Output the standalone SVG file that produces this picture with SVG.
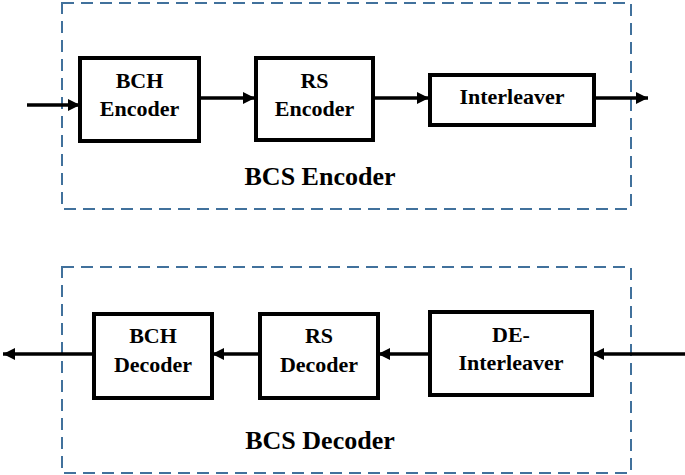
<svg xmlns="http://www.w3.org/2000/svg" width="685" height="475" viewBox="0 0 685 475">
<style>
.grp{fill:none;stroke:#41719c;stroke-width:2;stroke-dasharray:12 7}
.box{fill:#fff;stroke:#000;stroke-width:4}
.con{fill:none;stroke:#000;stroke-width:3.5}
</style>
<defs>
<marker id="ah" viewBox="0 0 10 10" refX="10" refY="5" markerWidth="12" markerHeight="12" markerUnits="userSpaceOnUse" orient="auto">
<path d="M0,0 L10,5 L0,10 Z" fill="#000"/>
</marker>
</defs>
<rect width="685" height="475" fill="#fff"/>
<g id="encoder-group">
<rect class="grp" x="62" y="3" width="569" height="206"/>
<text x="320" y="185" font-family="Liberation Serif, Times New Roman, serif" font-weight="bold" font-size="26" text-anchor="middle">BCS Encoder</text>
</g>
<g id="decoder-group">
<rect class="grp" x="62" y="267" width="569" height="206"/>
<text x="320" y="449" font-family="Liberation Serif, Times New Roman, serif" font-weight="bold" font-size="26" text-anchor="middle">BCS Decoder</text>
</g>
<g id="connectors">
<line class="con" x1="27" y1="105" x2="80" y2="105" marker-end="url(#ah)"/>
<line class="con" x1="199" y1="98" x2="255" y2="98" marker-end="url(#ah)"/>
<line class="con" x1="373" y1="98" x2="429" y2="98" marker-end="url(#ah)"/>
<line class="con" x1="594" y1="98" x2="648" y2="98" marker-end="url(#ah)"/>
<line class="con" x1="685" y1="354" x2="592" y2="354" marker-end="url(#ah)"/>
<line class="con" x1="429" y1="354" x2="378" y2="354" marker-end="url(#ah)"/>
<line class="con" x1="259" y1="354" x2="212" y2="354" marker-end="url(#ah)"/>
<line class="con" x1="93" y1="354" x2="3" y2="354" marker-end="url(#ah)"/>
</g>
<g font-family="Liberation Serif, Times New Roman, serif" font-weight="bold" font-size="22" text-anchor="middle">
<g id="bch-encoder">
<rect class="box" x="80" y="58" width="119" height="83"/>
<text x="139.5" y="88">BCH</text>
<text x="139.5" y="116">Encoder</text>
</g>
<g id="rs-encoder">
<rect class="box" x="256" y="58" width="117" height="82"/>
<text x="314.5" y="88">RS</text>
<text x="314.5" y="116">Encoder</text>
</g>
<g id="interleaver">
<rect class="box" x="430" y="75" width="164" height="50"/>
<text x="512" y="104">Interleaver</text>
</g>
<g id="bch-decoder">
<rect class="box" x="94" y="314" width="118" height="84"/>
<text x="153" y="343">BCH</text>
<text x="153" y="372">Decoder</text>
</g>
<g id="rs-decoder">
<rect class="box" x="260" y="314" width="118" height="84"/>
<text x="319" y="343">RS</text>
<text x="319" y="372">Decoder</text>
</g>
<g id="de-interleaver">
<rect class="box" x="430" y="312" width="162" height="83"/>
<text x="511" y="342">DE-</text>
<text x="511" y="370">Interleaver</text>
</g>
</g>
</svg>
